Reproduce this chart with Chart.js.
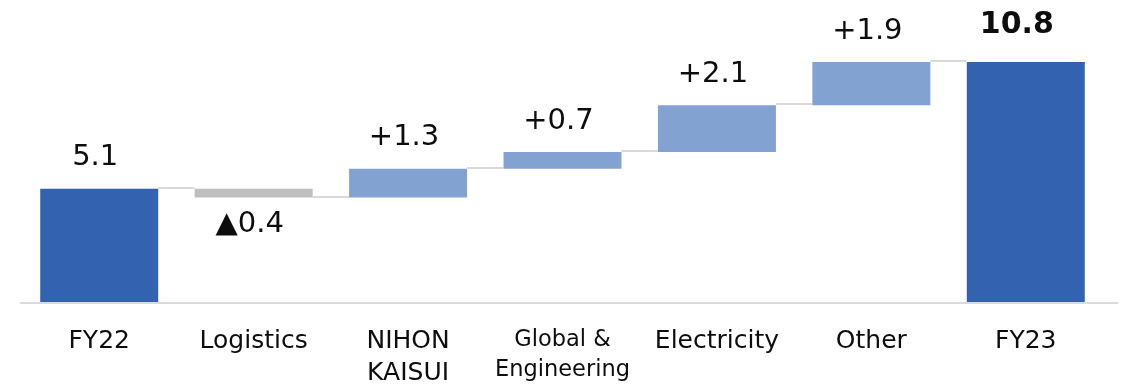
<!DOCTYPE html>
<html>
<head>
<meta charset="utf-8">
<script src="https://cdn.jsdelivr.net/npm/chart.js@4.4.1/dist/chart.umd.min.js"></script>
<style>
  html, body { margin: 0; padding: 0; background: #ffffff; }
  #wrap { width: 1134px; height: 384px; position: relative; }
</style>
</head>
<body>
<div id="wrap"><canvas id="c"></canvas></div>
<script>
const categories = [['FY22'], ['Logistics'], ['NIHON', 'KAISUI'], ['Global &', 'Engineering'], ['Electricity'], ['Other'], ['FY23']];
const barStarts = [0, 4.7, 4.7, 6.0, 6.75, 8.85, 0];
const barEnds = [5.1, 5.1, 6.0, 6.75, 8.85, 10.8, 10.8];
const barKinds = ['total', 'decrease', 'increase', 'increase', 'increase', 'increase', 'total'];
const valueLabels = ['5.1', '▲0.4', '+1.3', '+0.7', '+2.1', '+1.9', '10.8'];

const kindColors = { total: '#3363B0', increase: '#82A2D1', decrease: '#BFBFBF' };
const FONT = '"DejaVu Sans", Verdana, sans-serif';

const connectorPlugin = {
  id: 'connectors',
  beforeDatasetsDraw(chart) {
    const meta = chart.getDatasetMeta(0);
    const y = chart.scales.y;
    const ctx = chart.ctx;
    ctx.save();
    ctx.strokeStyle = '#D9D9D9';
    ctx.lineWidth = 2;
    for (let i = 0; i < meta.data.length - 1; i++) {
      const a = meta.data[i], b = meta.data[i + 1];
      const level = barKinds[i] === 'decrease' ? barStarts[i] : barEnds[i];
      const py = Math.round(y.getPixelForValue(level)) - 1;
      ctx.beginPath();
      ctx.moveTo(a.x + a.width / 2, py);
      ctx.lineTo(b.x - b.width / 2, py);
      ctx.stroke();
    }
    // baseline axis
    const area = chart.chartArea;
    const by = y.getPixelForValue(0) + 1;
    ctx.strokeStyle = '#D9D9E3';
    ctx.lineWidth = 2;
    ctx.beginPath();
    ctx.moveTo(area.left - 2, by);
    ctx.lineTo(area.right + 15, by);
    ctx.stroke();
    ctx.restore();
  },
  afterDatasetsDraw(chart) {
    const meta = chart.getDatasetMeta(0);
    const y = chart.scales.y;
    const ctx = chart.ctx;
    ctx.save();
    ctx.fillStyle = '#0d0d0d';
    ctx.textAlign = 'center';
    ctx.textBaseline = 'middle';
    meta.data.forEach((bar, i) => {
      const isLast = i === meta.data.length - 1;
      ctx.font = (isLast ? 'bold 30px ' : '29px ') + FONT;
      let py;
      if (barKinds[i] === 'decrease') {
        py = y.getPixelForValue(barStarts[i]) + 27;
      } else {
        py = y.getPixelForValue(barEnds[i]) - (isLast ? 37 : 31);
      }
      ctx.fillText(valueLabels[i], bar.x - (isLast ? 9 : 4), py);
    });
    ctx.restore();
  }
};

new Chart(document.getElementById('c'), {
  type: 'bar',
  data: {
    labels: categories,
    datasets: [{
      data: barStarts.map((s, i) => [s, barEnds[i]]),
      backgroundColor: barKinds.map(k => kindColors[k]),
      borderWidth: 0,
      borderSkipped: false,
      categoryPercentage: 1.0,
      barPercentage: 0.764
    }]
  },
  options: {
    responsive: true,
    maintainAspectRatio: false,
    animation: false,
    layout: { padding: { left: 22, right: 31, top: 2, bottom: 0 } },
    plugins: { legend: { display: false }, tooltip: { enabled: false } },
    scales: {
      x: {
        offset: true,
        grid: { display: false, drawTicks: false },
        border: { display: false },
        ticks: {
          color: '#0d0d0d',
          padding: 23,
          maxRotation: 0,
          autoSkip: false,
          font: (ctx) => (ctx.index === 3
            ? { family: FONT, size: 22.5, lineHeight: 1.33 }
            : { family: FONT, size: 25, lineHeight: 1.28 })
        },
        afterFit(scale) { scale.height = 82; }
      },
      y: {
        display: false,
        min: 0,
        max: 13.5
      }
    }
  },
  plugins: [connectorPlugin]
});
</script>
</body>
</html>
